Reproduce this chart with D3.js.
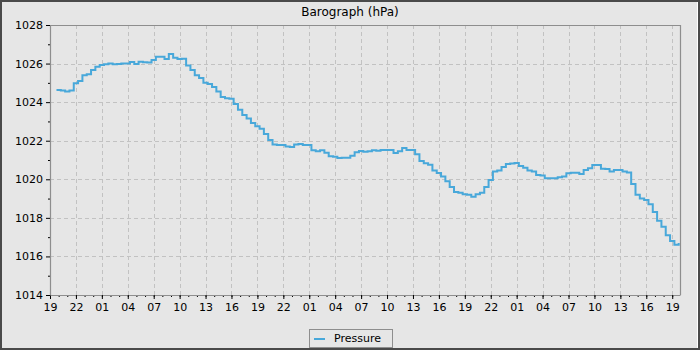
<!DOCTYPE html>
<html>
<head>
<meta charset="utf-8">
<script src="https://cdn.jsdelivr.net/npm/d3@7"></script>
<style>
  html, body { margin: 0; padding: 0; background: #e6e6e6; }
  svg { display: block; font-family: "DejaVu Sans", sans-serif; }
</style>
</head>
<body>
<svg id="chart" width="700" height="350"></svg>
<script>
// ---- data ----
const title = "Barograph (hPa)";
const seriesName = "Pressure";
const axisStart = new Date(2024, 0, 1, 19, 0);
const axisEnd = new Date(2024, 0, 4, 19, 54);
const firstSample = new Date(2024, 0, 1, 19, 45);
const sampleMinutes = 30;
const yTicks = [1014, 1016, 1018, 1020, 1022, 1024, 1026, 1028];
const yMinorTicks = [1015, 1017, 1019, 1021, 1023, 1025, 1027];
const pressure = [
  1024.63, 1024.6, 1024.55, 1024.6, 1024.98, 1025.1, 1025.4, 1025.44, 1025.67, 1025.84,
  1025.93, 1025.96, 1026.0, 1025.96, 1025.98, 1026.0, 1026.0, 1026.08, 1025.98, 1026.1,
  1026.07, 1026.05, 1026.19, 1026.36, 1026.36, 1026.24, 1026.5, 1026.3, 1026.24, 1026.25,
  1025.9, 1025.67, 1025.4, 1025.25, 1025.0, 1024.94, 1024.78, 1024.55, 1024.27, 1024.2,
  1024.18, 1023.9, 1023.6, 1023.33, 1023.15, 1022.92, 1022.75, 1022.62, 1022.35, 1022.04,
  1021.8, 1021.78, 1021.78, 1021.7, 1021.67, 1021.8, 1021.83, 1021.78, 1021.78, 1021.5,
  1021.45, 1021.5, 1021.37, 1021.2, 1021.17, 1021.1, 1021.12, 1021.12, 1021.22, 1021.4,
  1021.47, 1021.43, 1021.45, 1021.5, 1021.48, 1021.52, 1021.52, 1021.52, 1021.36, 1021.45,
  1021.62, 1021.52, 1021.52, 1021.3, 1020.95, 1020.83, 1020.75, 1020.45, 1020.33, 1020.14,
  1019.9, 1019.6, 1019.34, 1019.3, 1019.22, 1019.2, 1019.1, 1019.22, 1019.3, 1019.6,
  1019.96, 1020.4, 1020.45, 1020.64, 1020.79, 1020.82, 1020.84, 1020.69, 1020.6, 1020.45,
  1020.4, 1020.22, 1020.2, 1020.05, 1020.05, 1020.05, 1020.1, 1020.14, 1020.31, 1020.34,
  1020.34, 1020.27, 1020.48, 1020.57, 1020.74, 1020.74, 1020.55, 1020.53, 1020.4, 1020.48,
  1020.48, 1020.4, 1020.35, 1019.75, 1019.2, 1019.0, 1018.93, 1018.7, 1018.3, 1017.85,
  1017.54, 1017.1, 1016.8, 1016.6, 1016.7
];

// ---- layout ----
const W = 700, H = 350;
const m = { left: 50, right: 20, top: 25, bottom: 55 };
const lineColor = "#48a8da";
const gridColor = "#c2c2c2";
const frameColor = "#8e8e8e";

const svg = d3.select("#chart");

// background + outer frame
svg.append("rect").attr("x", 0).attr("y", 0).attr("width", W).attr("height", H).attr("fill", "#e6e6e6");
svg.append("rect").attr("x", 1).attr("y", 1).attr("width", W - 2).attr("height", H - 2)
  .attr("fill", "none").attr("stroke", "#4a4a4a").attr("stroke-width", 2);
svg.append("line").attr("x1", 697.5).attr("x2", 697.5).attr("y1", 2).attr("y2", 348)
  .attr("stroke", "#ffffff").attr("stroke-width", 1);

const data = pressure.map((v, i) => ({ t: new Date(firstSample.getTime() + i * sampleMinutes * 60000), v }));

const x = d3.scaleTime().domain([axisStart, axisEnd]).range([m.left, W - m.right]);
const y = d3.scaleLinear().domain([1014, 1028]).range([H - m.bottom, m.top]);

const majorX = d3.timeHour.range(axisStart, axisEnd, 3);
const minorX = d3.timeHour.range(axisStart, axisEnd, 1);

// grid
const grid = svg.append("g");
grid.selectAll("line.vg").data(majorX.slice(1)).enter().append("line")
  .attr("x1", d => Math.round(x(d)) + 0.5).attr("x2", d => Math.round(x(d)) + 0.5)
  .attr("y1", m.top).attr("y2", H - m.bottom)
  .attr("stroke", gridColor).attr("stroke-dasharray", "4,3");
grid.selectAll("line.hg").data(yTicks.slice(1, -1)).enter().append("line")
  .attr("x1", m.left).attr("x2", W - m.right)
  .attr("y1", d => Math.round(y(d)) + 0.5).attr("y2", d => Math.round(y(d)) + 0.5)
  .attr("stroke", gridColor).attr("stroke-dasharray", "4,3");

// plot frame (top/right)
svg.append("path")
  .attr("d", `M${m.left},${m.top + 0.5}H${W - m.right + 0.5}V${H - m.bottom}`)
  .attr("fill", "none").attr("stroke", frameColor).attr("stroke-width", 1.2);

// line
const line = d3.line().x(d => x(d.t)).y(d => y(d.v)).curve(d3.curveStepAfter);
svg.append("path").datum(data).attr("d", line)
  .attr("fill", "none").attr("stroke", lineColor).attr("stroke-width", 2);

// axes
function styleAxis(g) {
  g.select(".domain").attr("stroke", frameColor).attr("stroke-width", 1.2);
  g.selectAll(".tick line").attr("stroke", "#000");
  g.selectAll(".tick text").attr("fill", "#000").attr("font-size", 11).attr("font-family", "DejaVu Sans");
}
const xAxisMinor = svg.append("g").attr("transform", `translate(0,${H - m.bottom})`)
  .call(d3.axisBottom(x).tickValues(minorX).tickSize(2).tickFormat(""));
xAxisMinor.select(".domain").remove();
xAxisMinor.selectAll(".tick line").attr("stroke", "#000");
const xAxis = svg.append("g").attr("transform", `translate(0,${H - m.bottom})`)
  .call(d3.axisBottom(x).tickValues(majorX).tickSize(4).tickPadding(4).tickFormat(d3.timeFormat("%H")).tickSizeOuter(0));
styleAxis(xAxis);

const yAxisMinor = svg.append("g").attr("transform", `translate(${m.left},0)`)
  .call(d3.axisLeft(y).tickValues(yMinorTicks).tickSize(2).tickFormat(""));
yAxisMinor.select(".domain").remove();
yAxisMinor.selectAll(".tick line").attr("stroke", "#000");
const yAxis = svg.append("g").attr("transform", `translate(${m.left},0)`)
  .call(d3.axisLeft(y).tickValues(yTicks).tickSize(4).tickPadding(3).tickFormat(d3.format("d")).tickSizeOuter(0));
styleAxis(yAxis);

// title
svg.append("text").attr("x", W / 2).attr("y", 16).attr("text-anchor", "middle")
  .attr("font-size", 12).attr("fill", "#000").text(title);

// legend
const lg = svg.append("g").attr("transform", "translate(309,329)");
lg.append("rect").attr("x", 0.5).attr("y", 0.5).attr("width", 83).attr("height", 18)
  .attr("fill", "#e6e6e6").attr("stroke", frameColor).attr("stroke-width", 1);
lg.append("line").attr("x1", 5).attr("x2", 16).attr("y1", 10).attr("y2", 10)
  .attr("stroke", lineColor).attr("stroke-width", 2);
lg.append("text").attr("x", 25).attr("y", 13).attr("font-size", 11).attr("fill", "#000").text(seriesName);
</script>
</body>
</html>
